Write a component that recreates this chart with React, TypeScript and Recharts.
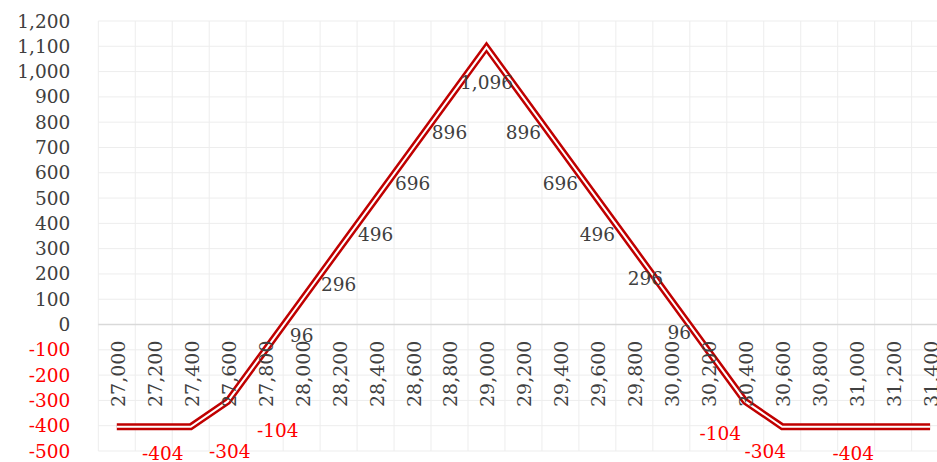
import {
  ComposedChart, Line, XAxis, YAxis, CartesianGrid, ReferenceLine, ReferenceDot, LabelList,
} from 'recharts';

const strikes = [
  27000, 27200, 27400, 27600, 27800, 28000, 28200, 28400, 28600, 28800, 29000, 29200,
  29400, 29600, 29800, 30000, 30200, 30400, 30600, 30800, 31000, 31200, 31400,
];
const payoff = [
  -404, -404, -404, -304, -104, 96, 296, 496, 696, 896, 1096, 896,
  696, 496, 296, 96, -104, -304, -404, -404, -404, -404, -404,
];
const yTicks = [-500, -400, -300, -200, -100, 0, 100, 200, 300, 400, 500, 600, 700, 800, 900, 1000, 1100, 1200];
// only these points carry a data label in the original
const labelled = [1, 3, 4, 5, 6, 7, 8, 9, 10, 11, 12, 13, 14, 15, 16, 17, 20];

const data = strikes.map((s, i) => ({ strike: s.toLocaleString('en-US'), payoff: payoff[i] }));

const FONT = '"DejaVu Serif", serif';
const GREY = '#404040';
const RED = '#FF0000';
const LINE_RED = '#C00000';
const fmt = (v: number) => v.toLocaleString('en-US');

// labels sit below the point; a few were dragged elsewhere
const nudges: Record<number, [number, number]> = {
  1: [9, 27],
  3: [2, 50],
  4: [13, 80],
  14: [11, 29],
  15: [8, 32],
  16: [12, 83],
  17: [20, 50],
  20: [-3, 27],
};

function YTick(props: any) {
  const { x, y, payload } = props;
  const v = Number(payload.value);
  return (
    <text x={x} y={y} textAnchor="end" dominantBaseline="central" fontFamily={FONT} fontSize={18.5}
      fill={v < 0 ? RED : GREY}>
      {fmt(v)}
    </text>
  );
}

function PointLabel(props: any) {
  const { x, y, value, index } = props;
  if (!labelled.includes(index)) return null;
  const [dx, dy] = nudges[index] ?? [0, 35];
  return (
    <text x={x + dx} y={y + dy} textAnchor="middle" dominantBaseline="central" fontFamily={FONT}
      fontSize={18.5} fill={value < 0 ? RED : GREY}>
      {fmt(value)}
    </text>
  );
}

const catLabel = (text: string) => (props: any) => {
  const { viewBox } = props;
  const cx = viewBox.x + (viewBox.width || 0) / 2 + 1;
  const ty = viewBox.y + 16;
  return (
    <text x={cx} y={ty} transform={`rotate(-90, ${cx}, ${ty})`} textAnchor="end" dominantBaseline="central"
      fontFamily={FONT} fontSize={19} fill={GREY}>
      {text}
    </text>
  );
};

export default function App() {
  const n = strikes.length;
  return (
    <div style={{ position: 'absolute', left: 0, top: 0, width: 937, height: 462, overflow: 'hidden', background: '#fff' }}>
      <ComposedChart width={960} height={462} data={data} margin={{ top: 21, right: 11.4, bottom: 11, left: 0 }}>
        <CartesianGrid
          stroke="#EDEDED"
          verticalCoordinatesGenerator={({ offset }: any) =>
            Array.from({ length: n }, (_, i) => offset.left + (i * offset.width) / n)}
        />
        <XAxis dataKey="strike" hide padding={{ left: 18.5, right: 18.5 }} />
        <YAxis
          type="number"
          domain={[-500, 1200]}
          ticks={yTicks}
          interval={0}
          width={98.3}
          axisLine={false}
          tickLine={false}
          tickSize={0}
          tickMargin={28}
          tick={<YTick />}
        />
        <ReferenceLine y={0} stroke="#D9D9D9" strokeWidth={1.5} />
        {data.map((d) => (
          <ReferenceDot key={d.strike} x={d.strike} y={0} r={0} fill="none" stroke="none" label={catLabel(d.strike)} />
        ))}
        <Line dataKey="payoff" stroke={LINE_RED} strokeWidth={7} strokeLinejoin="miter" dot={false}
          activeDot={false} isAnimationActive={false} />
        <Line dataKey="payoff" stroke="#FFFFFF" strokeWidth={2} strokeLinejoin="miter" dot={false}
          activeDot={false} isAnimationActive={false}>
          <LabelList dataKey="payoff" content={<PointLabel />} />
        </Line>
      </ComposedChart>
    </div>
  );
}
